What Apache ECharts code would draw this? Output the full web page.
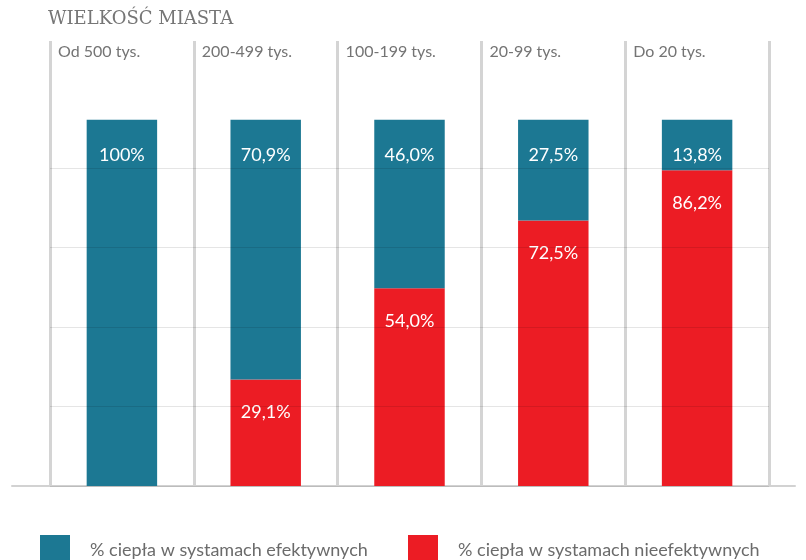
<!DOCTYPE html>
<html>
<head>
<meta charset="utf-8">
<script src="https://cdn.jsdelivr.net/npm/echarts@6/dist/echarts.min.js"></script>
<style>
  html, body { margin: 0; padding: 0; background: #fff; }
  #chart { width: 806px; height: 560px; }
</style>
</head>
<body>
<div id="chart"></div>
<script>
// dane
var cats = ['Od 500 tys.', '200-499 tys.', '100-199 tys.', '20-99 tys.', 'Do 20 tys.']
var efektywne = [100, 70.9, 46.0, 27.5, 13.8]
var nieefektywne = [null, 29.1, 54.0, 72.5, 86.2]
var nameEf = '% ciepła w systamach efektywnych'
var nameNie = '% ciepła w systamach nieefektywnych'

var fmt = function (p) {
    if (p.value === 100) return '100%'
    return p.value.toFixed(1).replace('.', ',') + '%'
}

var myChart = echarts.init(document.getElementById('chart'))
var option = {
    animation: false,
    title: {
        text: 'WIELKOŚĆ MIASTA',
        left: 48,
        top: 10,
        padding: 0,
        textStyle: {
            fontFamily: 'DejaVu Serif',
            fontSize: 18,
            fontWeight: 'normal',
            color: '#767676'
        }
    },
    legend: [{
        data: [nameEf],
        left: 40,
        top: 535,
        padding: 0,
        icon: 'rect',
        itemWidth: 30,
        itemHeight: 30,
        selectedMode: false,
        textStyle: { fontFamily: 'Lato', fontSize: 18, color: '#6b6b6b', padding: [0, 0, 0, 15] }
    }, {
        data: [nameNie],
        left: 408,
        top: 535,
        padding: 0,
        icon: 'rect',
        itemWidth: 30,
        itemHeight: 30,
        selectedMode: false,
        textStyle: { fontFamily: 'Lato', fontSize: 18, color: '#6b6b6b', padding: [0, 0, 0, 15] }
    }],
    grid: [
        // słupki + pionowe linie
        { left: 50, right: 37, top: 41, bottom: 74 },
        // poziome linie
        { left: 50, right: 37, top: 168, bottom: 74 },
        // linia bazowa
        { left: 12, right: 11, top: 41, bottom: 74 }
    ],
    xAxis: [{
        type: 'category',
        gridIndex: 0,
        data: cats,
        show: false
    }, {
        type: 'value',
        gridIndex: 0,
        position: 'top',
        min: 0,
        max: 5,
        interval: 1,
        axisLine: { show: false },
        axisTick: { show: false },
        splitLine: { show: true, lineStyle: { color: '#d4d4d4', width: 3 } },
        axisLabel: {
            inside: true,
            margin: 3,
            align: 'left',
            verticalAlign: 'top',
            padding: [0, 0, 0, 8],
            color: '#747474',
            fontFamily: 'Lato',
            fontSize: 16,
            formatter: function (v) { return cats[v] || '' }
        }
    }, {
        type: 'value',
        gridIndex: 1,
        show: false
    }, {
        type: 'value',
        gridIndex: 2,
        axisLine: { show: true, lineStyle: { color: '#d2d2d2', width: 2 } },
        axisTick: { show: false },
        axisLabel: { show: false },
        splitLine: { show: false }
    }],
    yAxis: [{
        type: 'value',
        gridIndex: 0,
        min: 0,
        max: 121.5,
        show: false
    }, {
        type: 'value',
        gridIndex: 1,
        min: 0,
        max: 4,
        interval: 1,
        z: 5,
        axisLine: { show: false },
        axisTick: { show: false },
        axisLabel: { show: false },
        splitLine: { show: true, lineStyle: { color: 'rgba(0,0,0,0.1)', width: 1 } }
    }, {
        type: 'value',
        gridIndex: 2,
        show: false
    }],
    series: [{
        name: nameNie,
        type: 'bar',
        stack: 'a',
        xAxisIndex: 0,
        yAxisIndex: 0,
        barWidth: '49%',
        data: nieefektywne,
        itemStyle: { color: '#ec1c24' },
        label: {
            show: true,
            position: 'insideTop',
            distance: 24,
            color: '#fff',
            fontFamily: 'Lato',
            fontSize: 18,
            formatter: fmt
        }
    }, {
        name: nameEf,
        type: 'bar',
        stack: 'a',
        xAxisIndex: 0,
        yAxisIndex: 0,
        barWidth: '49%',
        data: efektywne,
        itemStyle: { color: '#1c7893' },
        label: {
            show: true,
            position: 'insideTop',
            distance: 26,
            color: '#fff',
            fontFamily: 'Lato',
            fontSize: 18,
            formatter: fmt
        }
    }]
}
myChart.setOption(option)
</script>
</body>
</html>
